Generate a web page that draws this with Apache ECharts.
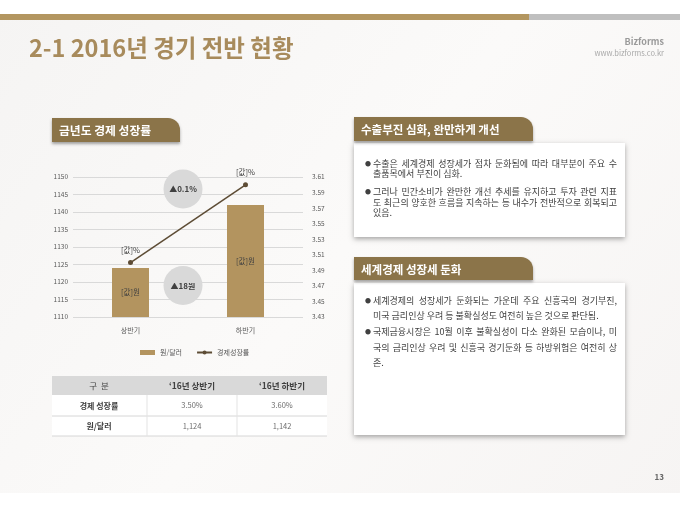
<!DOCTYPE html>
<html>
<head>
<meta charset="utf-8">
<script src="https://cdn.jsdelivr.net/npm/echarts@6/dist/echarts.min.js"></script>
<style>
  html, body { margin: 0; padding: 0; background: #fff; }
  #main { width: 680px; height: 510px; }
</style>
</head>
<body>
<div id="main"></div>
<script>
// 차트 데이터
var categories = ['상반기', '하반기'];
var exchangeRate = [1124, 1142];      // 원/달러
var growthRate = [3.50, 3.60];        // 경제성장률 (%)
var leftTicks = { min: 1110, max: 1150, interval: 5 };
var rightTicks = { min: 3.43, max: 3.61, interval: 0.02 };
var diffNotes = ['▲0.1%', '▲18원'];

// 표
var tableHead = ['구  분', '\u201816년 상반기', '\u201816년 하반기'];
var tableRowNames = ['경제 성장률', '원/달러'];

// 설명 박스
var box1Title = '수출부진 심화, 완만하게 개선';
var box1Paras = [
    ['수출은 세계경제 성장세가 점차 둔화됨에 따라 대부분이 주요 수', '출품목에서 부진이 심화.'],
    ['그러나 민간소비가 완만한 개선 추세를 유지하고 투자 관련 지표', '도 최근의 양호한 흐름을 지속하는 등 내수가 전반적으로 회복되고', '있음.']
];
var box2Title = '세계경제 성장세 둔화';
var box2Paras = [
    ['세계경제의 성장세가 둔화되는 가운데 주요 신흥국의 경기부진,', '미국 금리인상 우려 등 불확실성도 여전히 높은 것으로 판단됨.'],
    ['국제금융시장은 10월 이후 불확실성이 다소 완화된 모습이나, 미', '국의 금리인상 우려 및 신흥국 경기둔화 등 하방위험은 여전히 상', '존.']
];

var FONT = '"Noto Sans CJK KR", sans-serif';
var GOLD = '#a88b5c';
var TAB = '#8b7449';
var BODY_SIZE = 9;

var chart = echarts.init(document.getElementById('main'));

// 글자 폭은 echarts 로 측정
function textWidth(str, font) {
    return new echarts.graphic.Text({ style: { text: str, font: font } }).getBoundingRect().width;
}

// 양쪽 정렬 텍스트
function textLine(str, x0, x1, y, size, justify) {
    var font = size + 'px ' + FONT;
    var words = str.split(' ');
    if (!justify || words.length < 2) {
        return [{ type: 'text', x: x0, y: y, style: { text: str, font: font, fill: '#404040', verticalAlign: 'middle' } }];
    }
    var els = [];
    var widths = words.map(function (w) { return textWidth(w, font); });
    var total = widths.reduce(function (a, b) { return a + b; }, 0);
    var gap = (x1 - x0 - total) / (words.length - 1);
    var x = x0;
    words.forEach(function (w, i) {
        els.push({ type: 'text', x: x, y: y, style: { text: w, font: font, fill: '#404040', verticalAlign: 'middle' } });
        x += widths[i] + gap;
    });
    return els;
}

function paragraphs(paras, startY, lineH, paraGap) {
    var els = [];
    var y = startY;
    paras.forEach(function (lines, pi) {
        if (pi > 0) y += paraGap - lineH;
        els.push({ type: 'text', x: 365, y: y, style: { text: '●', font: '6px ' + FONT, fill: '#404040', verticalAlign: 'middle' } });
        lines.forEach(function (ln, li) {
            els = els.concat(textLine(ln, 373, 617, y, BODY_SIZE, li < lines.length - 1));
            y += lineH;
        });
    });
    return els;
}

function tab(x, y, w, h, text, size) {
    return [
        { type: 'rect', shape: { x: x, y: y, width: w, height: h, r: [0, 12, 0, 0] },
          style: { fill: TAB, shadowBlur: 3, shadowOffsetY: 2, shadowColor: 'rgba(0,0,0,0.35)' } },
        { type: 'text', x: x + 7, y: y + h / 2 + 1,
          style: { text: text, font: 'bold ' + size + 'px ' + FONT, fill: '#fff', verticalAlign: 'middle' } }
    ];
}

function box(x, y, w, h) {
    return { type: 'rect', shape: { x: x, y: y, width: w, height: h },
        style: { fill: '#fff', shadowBlur: 5, shadowOffsetY: 2, shadowColor: 'rgba(0,0,0,0.35)' } };
}

// 표 그래픽
function table() {
    var els = [];
    var x0 = 52, x1 = 327, cx = [99, 192, 282];
    var rowY = [376, 395, 416, 436];
    els.push({ type: 'rect', shape: { x: x0, y: rowY[0], width: x1 - x0, height: rowY[1] - rowY[0] }, style: { fill: '#d9d9d9' } });
    els.push({ type: 'rect', shape: { x: x0, y: rowY[1], width: x1 - x0, height: rowY[3] - rowY[1] }, style: { fill: '#fff' } });
    tableHead.forEach(function (t, i) {
        els.push({ type: 'text', x: cx[i], y: (rowY[0] + rowY[1]) / 2,
            style: { text: t, font: (i === 0 ? '' : 'bold ') + '8.5px ' + FONT, fill: '#404040', align: 'center', verticalAlign: 'middle' } });
    });
    var rows = [
        growthRate.map(function (v) { return v.toFixed(2) + '%'; }),
        exchangeRate.map(function (v) { return v.toLocaleString('en-US'); })
    ];
    rows.forEach(function (vals, r) {
        var yc = (rowY[r + 1] + rowY[r + 2]) / 2;
        els.push({ type: 'text', x: cx[0], y: yc,
            style: { text: tableRowNames[r], font: 'bold 8px ' + FONT, fill: '#404040', align: 'center', verticalAlign: 'middle' } });
        vals.forEach(function (v, i) {
            els.push({ type: 'text', x: cx[i + 1], y: yc,
                style: { text: v, font: '7.5px ' + FONT, fill: '#6b6b6b', align: 'center', verticalAlign: 'middle' } });
        });
        els.push({ type: 'line', shape: { x1: x0, y1: rowY[r + 2], x2: x1, y2: rowY[r + 2] }, style: { stroke: '#d6d6d6', lineWidth: 1 } });
    });
    [147, 237].forEach(function (x) {
        els.push({ type: 'line', shape: { x1: x, y1: rowY[1], x2: x, y2: rowY[3] }, style: { stroke: '#e3e3e3', lineWidth: 1 } });
    });
    return els;
}

var graphics = [
    // 배경
    { type: 'rect', z: -10, shape: { x: 0, y: 0, width: 680, height: 510 },
      style: { fill: new echarts.graphic.LinearGradient(0, 0, 1, 1, [
          { offset: 0, color: '#f5f4f3' }, { offset: 0.5, color: '#fbfaf9' }, { offset: 1, color: '#f6f4f3' }]) } },
    { type: 'rect', z: -9, shape: { x: 0, y: 0, width: 680, height: 14 }, style: { fill: '#fff' } },
    { type: 'rect', z: -9, shape: { x: 0, y: 493, width: 680, height: 17 }, style: { fill: '#fff' } },
    // 상단 바
    { type: 'rect', shape: { x: 0, y: 14, width: 529, height: 6 }, style: { fill: '#b39660' } },
    { type: 'rect', shape: { x: 529, y: 14, width: 151, height: 6 }, style: { fill: '#bfbfbf' } },
    // 제목
    { type: 'text', x: 29, y: 48, style: { text: '2-1 2016년 경기 전반 현황', font: 'bold 23.5px ' + FONT, fill: GOLD, verticalAlign: 'middle' } },
    { type: 'text', x: 664, y: 42, style: { text: 'Bizforms', font: 'bold 9px ' + FONT, fill: '#9a9a9a', align: 'right', verticalAlign: 'middle' } },
    { type: 'text', x: 664, y: 53, style: { text: 'www.bizforms.co.kr', font: '7.5px ' + FONT, fill: '#a8a8a8', align: 'right', verticalAlign: 'middle' } },
    { type: 'text', x: 664, y: 477, style: { text: '13', font: 'bold 8px ' + FONT, fill: '#666', align: 'right', verticalAlign: 'middle' } },
    // 증감 원
    { type: 'circle', shape: { cx: 183, cy: 189, r: 19.5 }, style: { fill: '#d9d9d9' } },
    { type: 'text', x: 183, y: 189, style: { text: diffNotes[0], font: 'bold 8px ' + FONT, fill: '#404040', align: 'center', verticalAlign: 'middle' } },
    { type: 'circle', shape: { cx: 183, cy: 285.5, r: 19.5 }, style: { fill: '#d9d9d9' } },
    { type: 'text', x: 183, y: 285.5, style: { text: diffNotes[1], font: 'bold 8px ' + FONT, fill: '#404040', align: 'center', verticalAlign: 'middle' } },
    box(354, 143, 271, 94),
    box(354, 283, 271, 152)
]
    .concat(tab(52, 118, 128, 24, '금년도 경제 성장률', 11.8))
    .concat(tab(354, 117, 179, 24, box1Title, 11.5))
    .concat(tab(354, 257, 179, 23, box2Title, 11.5))
    .concat(paragraphs(box1Paras, 163.5, 10.5, 17.7))
    .concat(paragraphs(box2Paras, 300.7, 15.3, 15.8))
    .concat(table());

var option = {
    textStyle: { fontFamily: FONT },
    graphic: { elements: graphics },
    grid: { left: 73, top: 177, width: 230, height: 140 },
    legend: {
        left: 135, top: 344,
        itemWidth: 15, itemHeight: 5, itemGap: 14,
        textStyle: { fontSize: 7, color: '#595959' },
        data: [{ name: '원/달러', icon: 'rect' }, { name: '경제성장률' }]
    },
    xAxis: {
        type: 'category',
        data: categories,
        axisLine: { show: false },
        axisTick: { show: false },
        axisLabel: { fontSize: 7, color: '#595959', margin: 10 }
    },
    yAxis: [
        {
            type: 'value', min: leftTicks.min, max: leftTicks.max, interval: leftTicks.interval,
            axisLine: { show: false }, axisTick: { show: false },
            axisLabel: { fontSize: 6.5, color: '#595959', margin: 5, formatter: function (v) { return String(v); } },
            splitLine: { lineStyle: { color: '#d9d9d9' } }
        },
        {
            type: 'value', min: rightTicks.min, max: rightTicks.max, interval: rightTicks.interval,
            axisLine: { show: false }, axisTick: { show: false },
            axisLabel: { fontSize: 6.5, color: '#595959', margin: 9, formatter: function (v) { return v.toFixed(2); } },
            splitLine: { show: false }
        }
    ],
    series: [
        {
            name: '원/달러',
            type: 'bar',
            data: exchangeRate,
            barWidth: 37,
            itemStyle: { color: '#b3945f' },
            label: { show: true, position: 'inside', formatter: '[값]원', fontSize: 7.5, color: '#404040' }
        },
        {
            name: '경제성장률',
            type: 'line',
            yAxisIndex: 1,
            data: growthRate,
            symbol: 'circle',
            symbolSize: 5,
            lineStyle: { color: '#5d4c35', width: 1.5 },
            itemStyle: { color: '#5d4c35' },
            label: { show: true, position: 'top', distance: 6, formatter: '[값]%', fontSize: 7.5, color: '#404040' }
        }
    ]
};

chart.setOption(option);
</script>
</body>
</html>
